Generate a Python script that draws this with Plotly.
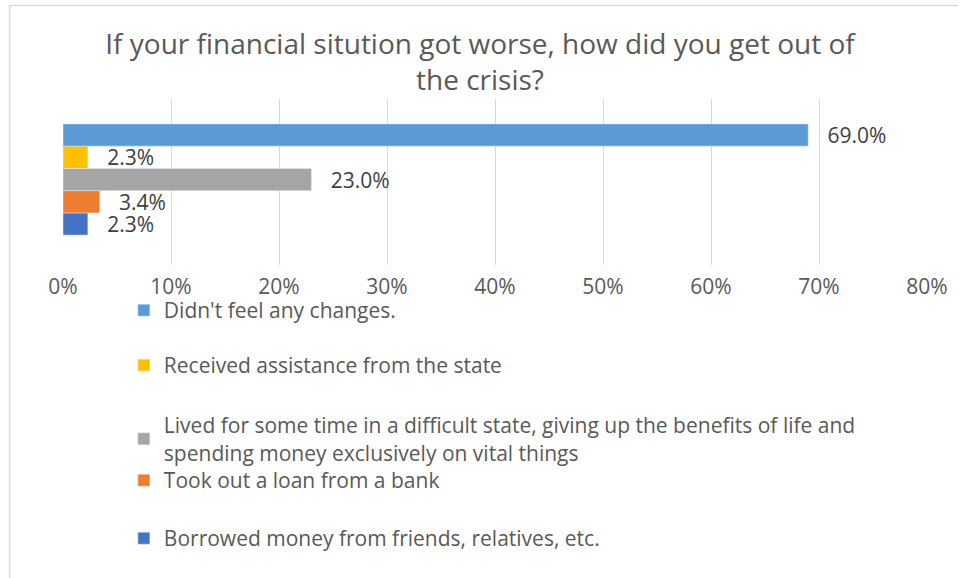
import plotly.graph_objects as go

# answers, listed from the bottom bar to the top bar
answers = [
    "Borrowed money from friends, relatives, etc.",
    "Took out a loan from a bank",
    "Lived for some time in a difficult state, giving up the benefits of life and<br>spending money exclusively on vital things",
    "Received assistance from the state",
    "Didn't feel any changes.",
]
shares = [0.023, 0.034, 0.23, 0.023, 0.69]
colors = ["#4472C4", "#ED7D31", "#A5A5A5", "#FFC000", "#5B9BD5"]
# top of each legend entry, in page pixels (same order as answers)
legend_top_px = [518, 460, 405, 345, 290]

W, H = 960, 578
ML, MR, MT, MB = 63, 31, 99, 313
plot_h = H - MT - MB
plot_w = W - ML - MR
FONT = "Open Sans"


def px_x(px):
    return (px - ML) / plot_w


def px_y(py):
    return (H - MB - py) / plot_h


fig = go.Figure()
for i, (name, val, col) in enumerate(zip(answers, shares, colors)):
    lg = "legend" if i == 0 else "legend%d" % (i + 1)
    fig.add_trace(
        go.Bar(
            x=[val],
            y=["q"],
            orientation="h",
            name=name,
            marker_color=col,
            text=[val],
            texttemplate="   %{x:.1%}",
            textposition="outside",
            constraintext="none",
            textfont=dict(family=FONT, size=21, color="#404040"),
            cliponaxis=False,
            legend=lg,
        )
    )

legend_style = dict(
    font=dict(family=FONT, size=21, color="#595959"),
    bgcolor="rgba(0,0,0,0)",
    xanchor="left",
    yanchor="top",
    x=px_x(124),
    itemclick=False,
)
legends = {}
for i, top in enumerate(legend_top_px):
    key = "legend" if i == 0 else "legend%d" % (i + 1)
    legends[key] = dict(legend_style, y=px_y(top))

fig.update_layout(
    width=W,
    height=H,
    margin=dict(l=ML, r=MR, t=MT, b=MB),
    paper_bgcolor="white",
    plot_bgcolor="white",
    font=dict(family=FONT, color="#595959"),
    title=dict(
        text="If your financial sitution got worse, how did you get out of<br>the crisis?",
        x=0.5,
        xanchor="center",
        y=1 - 54 / H,
        yanchor="top",
        font=dict(family=FONT, size=28, color="#595959"),
    ),
    barmode="group",
    bargap=0.33,
    bargroupgap=0,
    xaxis=dict(
        range=[0, 0.8],
        dtick=0.1,
        tickformat=".0%",
        showgrid=True,
        gridcolor="#D9D9D9",
        gridwidth=1,
        zeroline=False,
        showline=False,
        ticks="",
        tickfont=dict(family=FONT, size=21, color="#595959"),
        ticklabelstandoff=7,
    ),
    yaxis=dict(
        showticklabels=False,
        showgrid=False,
        zeroline=False,
        range=[-0.515, 0.485],
    ),
    showlegend=True,
    **legends,
)

# thin chart-area border (left and top edges)
fig.add_shape(type="line", xref="paper", yref="paper",
              x0=px_x(9.5), x1=px_x(W), y0=px_y(5.5), y1=px_y(5.5),
              line=dict(color="#D9D9D9", width=1.5))
fig.add_shape(type="line", xref="paper", yref="paper",
              x0=px_x(9.5), x1=px_x(9.5), y0=px_y(5.5), y1=px_y(H),
              line=dict(color="#D9D9D9", width=1.5))

# page body margin off, so the figure sits at the window's corner
fig.write_html("out.html", config={"displayModeBar": False},
               post_script="document.body.style.margin='0';")
